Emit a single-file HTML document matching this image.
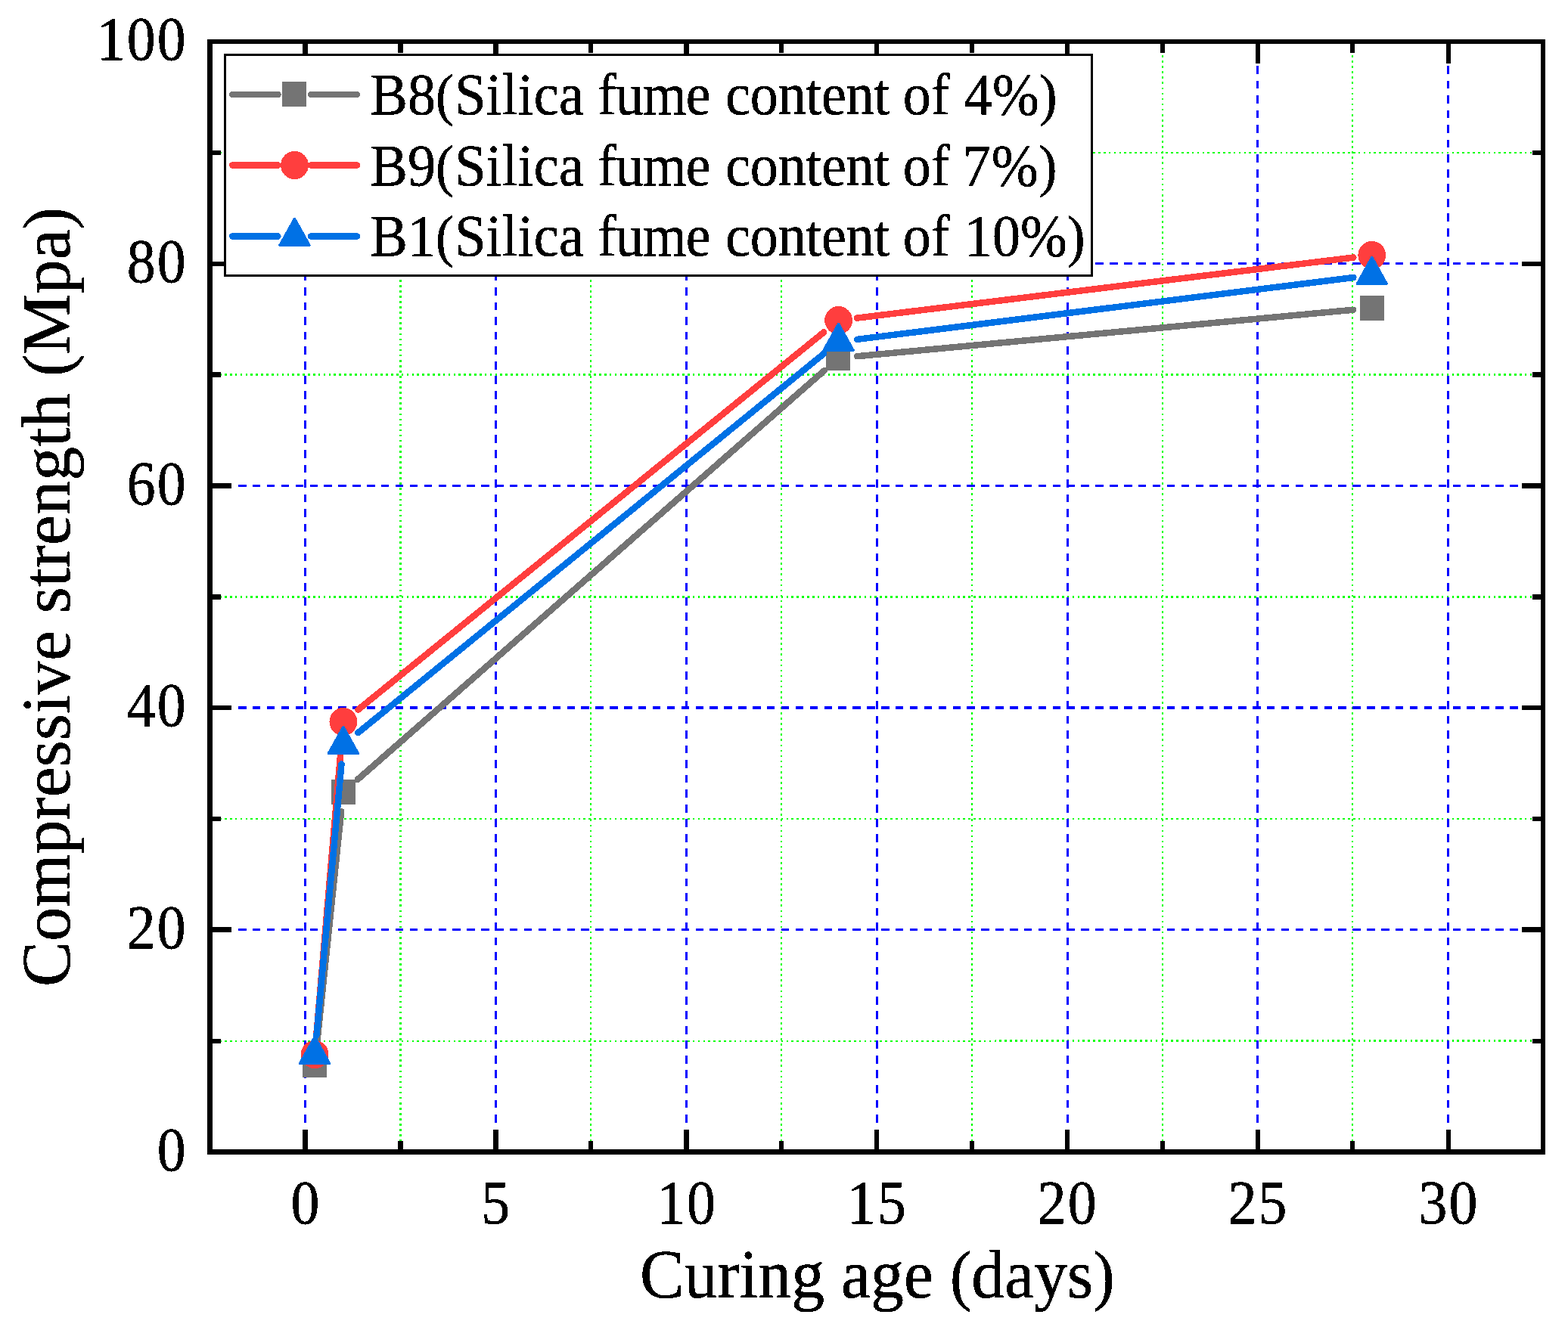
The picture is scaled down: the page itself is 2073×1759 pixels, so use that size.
<!DOCTYPE html>
<html lang="en"><head><meta charset="utf-8"><title>Compressive strength vs curing age</title>
<style>html,body{margin:0;padding:0;background:#fff;width:2073px;height:1759px;overflow:hidden;}svg{display:block;}text{font-family:"Liberation Serif","Times New Roman",serif;fill:#000;stroke:#000;stroke-width:0.5px;stroke-linejoin:round;}</style></head>
<body>
<svg width="2073" height="1759" viewBox="0 0 2073 1759" shape-rendering="crispEdges">
<rect x="0" y="0" width="2073" height="1759" fill="#fff"/>
<defs><filter id="bw" x="-2%" y="-10%" width="104%" height="120%" color-interpolation-filters="sRGB"><feComponentTransfer><feFuncA type="discrete" tableValues="0 1"/></feComponentTransfer></filter><clipPath id="plotclip"><rect x="281" y="58" width="1756" height="1462"/></clipPath><clipPath id="bhclip"><rect x="307" y="58" width="1705" height="1462"/></clipPath></defs>
<g id="grid" fill="none" clip-path="url(#plotclip)">
<line x1="269.600" y1="1377.0" x2="2040" y2="1377.0" stroke="#00FF00" stroke-width="2" stroke-dasharray="2.6 4.275"/>
<line x1="269.600" y1="1083.0" x2="2040" y2="1083.0" stroke="#00FF00" stroke-width="2" stroke-dasharray="2.6 4.275"/>
<line x1="269.600" y1="789.5" x2="2040" y2="789.5" stroke="#00FF00" stroke-width="3" stroke-dasharray="2.6 4.275"/>
<line x1="269.600" y1="495.5" x2="2040" y2="495.5" stroke="#00FF00" stroke-width="3" stroke-dasharray="2.6 4.275"/>
<line x1="269.600" y1="202.0" x2="2040" y2="202.0" stroke="#00FF00" stroke-width="2" stroke-dasharray="2.6 4.275"/>
<clipPath id="g10clip"><rect x="1316" y="1370" width="721" height="12"/></clipPath>
<g clip-path="url(#g10clip)">
<line x1="269.600" y1="1375.5" x2="2040" y2="1375.5" stroke="#00FF00" stroke-width="1" stroke-dasharray="2.6 4.275"/>
</g>
<line x1="529.5" y1="44.900" x2="529.5" y2="1525" stroke="#00FF00" stroke-width="3" stroke-dasharray="2.65 4.415"/>
<line x1="781.0" y1="44.900" x2="781.0" y2="1525" stroke="#00FF00" stroke-width="2" stroke-dasharray="2.65 4.415"/>
<line x1="1033.0" y1="44.900" x2="1033.0" y2="1525" stroke="#00FF00" stroke-width="2" stroke-dasharray="2.65 4.415"/>
<line x1="1285.0" y1="44.900" x2="1285.0" y2="1525" stroke="#00FF00" stroke-width="2" stroke-dasharray="2.65 4.415"/>
<line x1="1537.0" y1="44.900" x2="1537.0" y2="1525" stroke="#00FF00" stroke-width="2" stroke-dasharray="2.65 4.415"/>
<line x1="1788.0" y1="44.900" x2="1788.0" y2="1525" stroke="#00FF00" stroke-width="2" stroke-dasharray="2.65 4.415"/>
<g clip-path="url(#bhclip)">
<line x1="258.436" y1="1229.5" x2="2040" y2="1229.5" stroke="#0000FF" stroke-width="3" stroke-dasharray="10.45 8.438"/>
<line x1="258.436" y1="936.0" x2="2040" y2="936.0" stroke="#0000FF" stroke-width="4" stroke-dasharray="10.45 8.438"/>
<line x1="258.436" y1="642.5" x2="2040" y2="642.5" stroke="#0000FF" stroke-width="3" stroke-dasharray="10.45 8.438"/>
<line x1="258.436" y1="348.5" x2="2040" y2="348.5" stroke="#0000FF" stroke-width="3" stroke-dasharray="10.45 8.438"/>
</g>
<line x1="403.5" y1="48.030" x2="403.5" y2="1525" stroke="#0000FF" stroke-width="3" stroke-dasharray="10.7 8.835"/>
<line x1="655.5" y1="48.030" x2="655.5" y2="1525" stroke="#0000FF" stroke-width="3" stroke-dasharray="10.7 8.835"/>
<line x1="907.5" y1="48.030" x2="907.5" y2="1525" stroke="#0000FF" stroke-width="3" stroke-dasharray="10.7 8.835"/>
<line x1="1159.5" y1="48.030" x2="1159.5" y2="1525" stroke="#0000FF" stroke-width="3" stroke-dasharray="10.7 8.835"/>
<line x1="1411.5" y1="48.030" x2="1411.5" y2="1525" stroke="#0000FF" stroke-width="3" stroke-dasharray="10.7 8.835"/>
<line x1="1662.5" y1="48.030" x2="1662.5" y2="1525" stroke="#0000FF" stroke-width="3" stroke-dasharray="10.7 8.835"/>
<line x1="1914.5" y1="48.030" x2="1914.5" y2="1525" stroke="#0000FF" stroke-width="3" stroke-dasharray="10.7 8.835"/>
</g>
<g id="axes" fill="#000">
<rect x="274" y="52" width="7" height="1475"/>
<rect x="2037" y="52" width="6" height="1475"/>
<rect x="274" y="52" width="1769" height="6"/>
<rect x="274" y="1520" width="1769" height="7"/>
<rect x="400" y="1494" width="7" height="26"/>
<rect x="400" y="58" width="7" height="26"/>
<rect x="526" y="1509" width="7" height="11"/>
<rect x="526" y="58" width="7" height="12"/>
<rect x="652" y="1494" width="7" height="26"/>
<rect x="652" y="58" width="7" height="26"/>
<rect x="778" y="1509" width="6" height="11"/>
<rect x="778" y="58" width="6" height="12"/>
<rect x="904" y="1494" width="7" height="26"/>
<rect x="904" y="58" width="7" height="26"/>
<rect x="1030" y="1509" width="6" height="11"/>
<rect x="1030" y="58" width="6" height="12"/>
<rect x="1156" y="1494" width="6" height="26"/>
<rect x="1156" y="58" width="6" height="26"/>
<rect x="1282" y="1509" width="6" height="11"/>
<rect x="1282" y="58" width="6" height="12"/>
<rect x="1408" y="1494" width="6" height="26"/>
<rect x="1408" y="58" width="6" height="26"/>
<rect x="1534" y="1509" width="6" height="11"/>
<rect x="1534" y="58" width="6" height="12"/>
<rect x="1660" y="1494" width="6" height="26"/>
<rect x="1660" y="58" width="6" height="26"/>
<rect x="1785" y="1509" width="6" height="11"/>
<rect x="1785" y="58" width="6" height="12"/>
<rect x="1912" y="1494" width="6" height="26"/>
<rect x="1912" y="58" width="6" height="26"/>
<rect x="281" y="1374" width="11" height="6"/>
<rect x="2026" y="1374" width="11" height="6"/>
<rect x="281" y="1226" width="25" height="7"/>
<rect x="2012" y="1226" width="25" height="7"/>
<rect x="281" y="1080" width="11" height="6"/>
<rect x="2026" y="1080" width="11" height="6"/>
<rect x="281" y="933" width="25" height="6"/>
<rect x="2012" y="933" width="25" height="6"/>
<rect x="281" y="786" width="11" height="7"/>
<rect x="2026" y="786" width="11" height="7"/>
<rect x="281" y="639" width="25" height="7"/>
<rect x="2012" y="639" width="25" height="7"/>
<rect x="281" y="492" width="11" height="7"/>
<rect x="2026" y="492" width="11" height="7"/>
<rect x="281" y="346" width="25" height="6"/>
<rect x="2012" y="346" width="25" height="6"/>
<rect x="281" y="199" width="11" height="6"/>
<rect x="2026" y="199" width="11" height="6"/>
</g>
<g id="data">
<g id="B8">
<line x1="418.76" y1="1383.00" x2="451.20" y2="1073.08" stroke="#747474" stroke-width="8.5" stroke-linecap="round"/>
<line x1="472.74" y1="1031.01" x2="1089.76" y2="490.07" stroke="#747474" stroke-width="8.5" stroke-linecap="round"/>
<line x1="1133.19" y1="471.22" x2="1789.22" y2="409.74" stroke="#747474" stroke-width="8.5" stroke-linecap="round"/>
<rect x="401" y="1393" width="30" height="31" fill="#747474" stroke="#747474" stroke-width="2" stroke-linejoin="round"/>
<rect x="439" y="1032" width="30" height="31" fill="#747474" stroke="#747474" stroke-width="2" stroke-linejoin="round"/>
<rect x="1093" y="458" width="30" height="31" fill="#747474" stroke="#747474" stroke-width="2" stroke-linejoin="round"/>
<rect x="1799" y="392" width="30" height="31" fill="#747474" stroke="#747474" stroke-width="2" stroke-linejoin="round"/>
</g>
<g id="B9">
<line x1="418.29" y1="1369.00" x2="451.67" y2="980.02" stroke="#FF3E3E" stroke-width="8.5" stroke-linecap="round"/>
<line x1="473.33" y1="938.67" x2="1089.17" y2="439.38" stroke="#FF3E3E" stroke-width="8.5" stroke-linecap="round"/>
<line x1="1133.12" y1="420.61" x2="1789.29" y2="340.53" stroke="#FF3E3E" stroke-width="8.5" stroke-linecap="round"/>
<ellipse cx="416.1" cy="1394.6" rx="18.4" ry="18.6" fill="#FF3E3E"/>
<ellipse cx="453.9" cy="954.5" rx="18.4" ry="18.6" fill="#FF3E3E"/>
<ellipse cx="1108.6" cy="423.6" rx="18.4" ry="18.6" fill="#FF3E3E"/>
<ellipse cx="1813.8" cy="337.5" rx="18.4" ry="18.6" fill="#FF3E3E"/>
</g>
<g id="B1">
<line x1="418.45" y1="1369.45" x2="451.51" y2="1010.55" stroke="#0071E5" stroke-width="8.5" stroke-linecap="round"/>
<line x1="473.30" y1="969.18" x2="1089.20" y2="467.76" stroke="#0071E5" stroke-width="8.5" stroke-linecap="round"/>
<line x1="1133.11" y1="448.88" x2="1789.30" y2="367.03" stroke="#0071E5" stroke-width="8.5" stroke-linecap="round"/>
<path d="M416.1 1371.3 L435.7 1406.4 L396.5 1406.4 Z" fill="#0071E5" stroke="#0071E5" stroke-width="3.2" stroke-linejoin="round"/>
<path d="M453.9 961.3 L473.5 996.4 L434.3 996.4 Z" fill="#0071E5" stroke="#0071E5" stroke-width="3.2" stroke-linejoin="round"/>
<path d="M1108.6 428.2 L1128.2 463.3 L1089.0 463.3 Z" fill="#0071E5" stroke="#0071E5" stroke-width="3.2" stroke-linejoin="round"/>
<path d="M1813.8 340.3 L1833.4 375.4 L1794.2 375.4 Z" fill="#0071E5" stroke="#0071E5" stroke-width="3.2" stroke-linejoin="round"/>
</g>
</g>
<g id="legend">
<rect x="297.5" y="72.5" width="1146" height="292" fill="#fff" stroke="#000" stroke-width="3"/>
<line x1="307.2" y1="125.0" x2="367.4" y2="125.0" stroke="#747474" stroke-width="8.5" stroke-linecap="round"/>
<line x1="411" y1="125.0" x2="472.0" y2="125.0" stroke="#747474" stroke-width="8.5" stroke-linecap="round"/>
<rect x="374" y="109" width="30" height="31" fill="#747474" stroke="#747474" stroke-width="2" stroke-linejoin="round"/>
<text filter="url(#bw)" transform="translate(489.6 150.9) scale(0.95 1)" font-size="78.0">B8<tspan font-size="97%">(</tspan><tspan dx="1.37" letter-spacing="0.38">Silica</tspan><tspan dx="0.24" letter-spacing="-0.95"> fume</tspan><tspan dx="2.35" letter-spacing="-0.23"> content</tspan><tspan dx="-0.6"> of</tspan><tspan dx="0.95" letter-spacing="0"> 4%<tspan font-size="97%">)</tspan></tspan></text>
<line x1="307.2" y1="218.5" x2="367.4" y2="218.5" stroke="#FF3E3E" stroke-width="8.5" stroke-linecap="round"/>
<line x1="411" y1="218.5" x2="472.0" y2="218.5" stroke="#FF3E3E" stroke-width="8.5" stroke-linecap="round"/>
<ellipse cx="389.5" cy="218.5" rx="18.4" ry="18.6" fill="#FF3E3E"/>
<text filter="url(#bw)" transform="translate(489.6 244.6) scale(0.95 1)" font-size="78.0">B9<tspan font-size="97%">(</tspan><tspan dx="1.37" letter-spacing="0.38">Silica</tspan><tspan dx="0.24" letter-spacing="-0.95"> fume</tspan><tspan dx="2.35" letter-spacing="-0.23"> content</tspan><tspan dx="-0.6"> of</tspan><tspan dx="-2.3" letter-spacing="1.0"> 7%<tspan font-size="97%">)</tspan></tspan></text>
<line x1="307.2" y1="312.5" x2="367.4" y2="312.5" stroke="#0071E5" stroke-width="8.5" stroke-linecap="round"/>
<line x1="411" y1="312.5" x2="472.0" y2="312.5" stroke="#0071E5" stroke-width="8.5" stroke-linecap="round"/>
<path d="M389.5 289.2 L409.1 324.3 L369.9 324.3 Z" fill="#0071E5" stroke="#0071E5" stroke-width="3.2" stroke-linejoin="round"/>
<text filter="url(#bw)" transform="translate(489.6 338.3) scale(0.95 1)" font-size="78.0">B1<tspan font-size="97%">(</tspan><tspan dx="1.37" letter-spacing="0.38">Silica</tspan><tspan dx="0.24" letter-spacing="-0.95"> fume</tspan><tspan dx="2.35" letter-spacing="-0.23"> content</tspan><tspan dx="-0.6"> of</tspan><tspan dx="0.95" letter-spacing="0"> 10%<tspan font-size="97%">)</tspan></tspan></text>
</g>
<g id="ticklabels" filter="url(#bw)" font-size="83.0" letter-spacing="2.2">
<text transform="translate(247.6 1547.8) scale(0.913 1)" text-anchor="end">0</text>
<text transform="translate(247.6 1254.1) scale(0.913 1)" text-anchor="end">20</text>
<text transform="translate(247.6 960.4) scale(0.913 1)" text-anchor="end">40</text>
<text transform="translate(247.6 666.7) scale(0.913 1)" text-anchor="end">60</text>
<text transform="translate(247.6 373.0) scale(0.913 1)" text-anchor="end">80</text>
<text transform="translate(247.6 79.3) scale(0.913 1)" text-anchor="end">100</text>
<text transform="translate(404.4 1618.2) scale(0.913 1)" text-anchor="middle">0</text>
<text transform="translate(656.2 1618.2) scale(0.913 1)" text-anchor="middle">5</text>
<text transform="translate(908.1 1618.2) scale(0.913 1)" text-anchor="middle">10</text>
<text transform="translate(1159.9 1618.2) scale(0.913 1)" text-anchor="middle">15</text>
<text transform="translate(1411.7 1618.2) scale(0.913 1)" text-anchor="middle">20</text>
<text transform="translate(1663.6 1618.2) scale(0.913 1)" text-anchor="middle">25</text>
<text transform="translate(1915.4 1618.2) scale(0.913 1)" text-anchor="middle">30</text>
</g>
<g id="titles" filter="url(#bw)">
<text transform="translate(846.1 1716.2) scale(0.9548 1)" font-size="92.0">Curing age <tspan font-size="97%">(</tspan>days<tspan font-size="97%">)</tspan></text>
<text transform="translate(91.9 1305.2) rotate(-90) scale(0.9812 1)" font-size="92.0">Compressive strength <tspan font-size="97%">(</tspan>Mpa<tspan font-size="97%">)</tspan></text>
</g>
</svg>
</body></html>
